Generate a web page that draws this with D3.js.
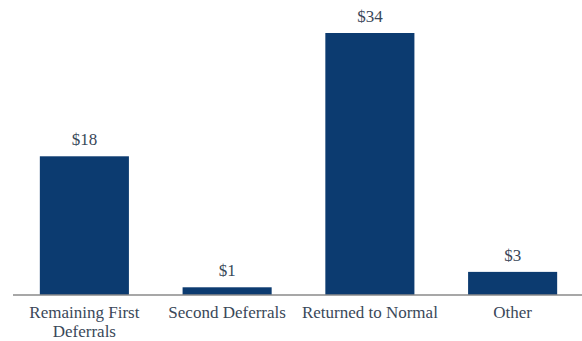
<!DOCTYPE html>
<html>
<head>
<meta charset="utf-8">
<script src="https://cdn.jsdelivr.net/npm/d3@7"></script>
<style>
  html, body { margin: 0; padding: 0; background: #fff; }
  svg { display: block; }
</style>
</head>
<body>
<div id="chart"></div>
<script>
// Deferral status breakdown ($)
const categories = ["Remaining First\nDeferrals", "Second Deferrals", "Returned to Normal", "Other"];
const values = [18, 1, 34, 3];
const valueLabels = ["$18", "$1", "$34", "$3"];

const width = 582, height = 341;
const baseline = 295;
const fontFamily = "'Liberation Serif', 'Times New Roman', serif";

const svg = d3.select("#chart").append("svg")
  .attr("width", width)
  .attr("height", height)
  .attr("font-family", fontFamily);

const x = d3.scaleBand()
  .domain(categories)
  .range([13, 584])
  .paddingInner(0.376)
  .paddingOuter(0.188);

const y = d3.scaleLinear()
  .domain([0, 34])
  .range([baseline, 33]);

const barColor = "#0c3b70";
const textColor = "#3a4859";

svg.selectAll("rect.bar")
  .data(values)
  .join("rect")
  .attr("class", "bar")
  .attr("x", (d, i) => x(categories[i]))
  .attr("width", x.bandwidth())
  .attr("y", d => y(d))
  .attr("height", d => baseline - y(d))
  .attr("fill", barColor);

svg.selectAll("text.value")
  .data(values)
  .join("text")
  .attr("class", "value")
  .attr("x", (d, i) => x(categories[i]) + x.bandwidth() / 2)
  .attr("y", d => y(d) - 11)
  .attr("text-anchor", "middle")
  .attr("font-family", fontFamily)
  .attr("font-size", 17)
  .attr("fill", textColor)
  .text((d, i) => valueLabels[i]);

// category axis along the baseline
const axis = d3.axisBottom(x).tickSize(0).tickPadding(0);
const gAxis = svg.append("g")
  .attr("transform", `translate(0,${baseline})`)
  .call(axis)
  .attr("font-family", fontFamily);
gAxis.select(".domain")
  .attr("stroke", "#8a8a8a")
  .attr("stroke-width", 1.5)
  .attr("d", `M13,0H582`);
gAxis.selectAll(".tick text").remove();
gAxis.selectAll(".tick").each(function(d) {
  const lines = d.split("\n");
  const t = d3.select(this).append("text")
    .attr("text-anchor", "middle")
    .attr("font-family", fontFamily)
    .attr("font-size", 17)
    .attr("fill", textColor);
  lines.forEach((ln, i) => {
    t.append("tspan")
      .attr("x", 0)
      .attr("y", 23 + i * 19)
      .text(ln);
  });
});
</script>
</body>
</html>
